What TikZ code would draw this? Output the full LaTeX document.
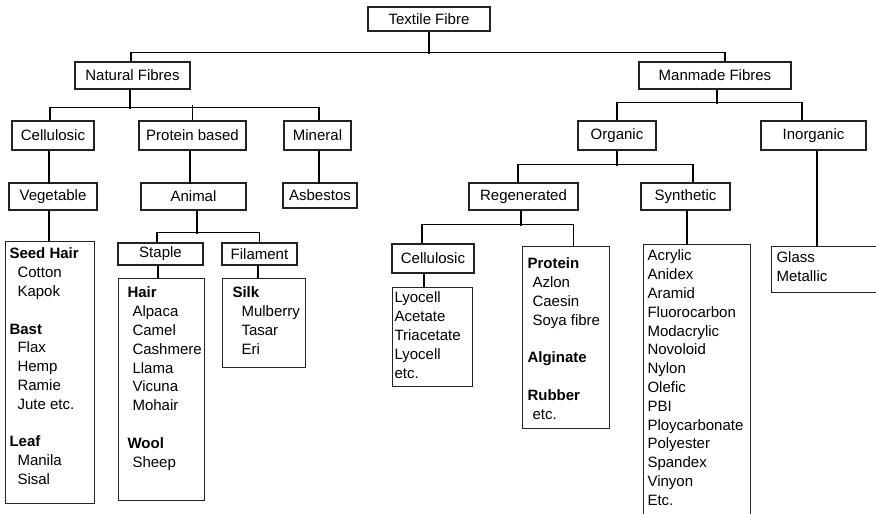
\documentclass[tikz,border=0pt]{standalone}
\usepackage{fontspec}
\setmainfont{Liberation Sans}

\tikzset{every picture/.style={line width=1.1pt}}
\tikzset{
  fibre/.style={draw={rgb, 255:red, 35; green, 35; blue, 35}, inner sep=0pt, font=\fontsize{15}{18.8}\selectfont},
  frame/.style={draw={rgb, 255:red, 35; green, 35; blue, 35}, inner sep=0pt, anchor=north west},
  items/.style={inner sep=0pt, anchor=north west, align=left, font=\fontsize{15}{18.8}\selectfont},
}
\newcommand{\ind}[1][8pt]{\hspace*{#1}}

\begin{document}
\begin{tikzpicture}[x=1pt,y=1pt,yscale=-1,xscale=1]
	\useasboundingbox (0,0) rectangle (876,514);

	% Text Node
	\node[fibre, minimum width=122pt, minimum height=24pt] (tf) at (429,19) {Textile Fibre};
	% Text Node
	\node[fibre, minimum width=115pt, minimum height=27pt] (nat) at (132.5,75.5) {Natural Fibres};
	\node[fibre, minimum width=152pt, minimum height=27pt] (man) at (715,75.5) {Manmade Fibres};
	% Text Node
	\node[fibre, minimum width=82pt, minimum height=29pt] (cel) at (53,135.5) {Cellulosic};
	\node[fibre, minimum width=107pt, minimum height=29pt] (prot) at (192.5,135.5) {Protein based};
	\node[fibre, minimum width=67pt, minimum height=29pt] (mine) at (317.5,135.5) {Mineral};
	\node[fibre, minimum width=78pt, minimum height=29pt] (org) at (617,135.5) {Organic};
	\node[fibre, minimum width=105pt, minimum height=29pt] (inorg) at (813.5,135.5) {Inorganic};
	% Text Node
	\node[fibre, minimum width=88pt, minimum height=27pt] (veg) at (53,196.5) {Vegetable};
	\node[fibre, minimum width=105pt, minimum height=27pt] (anim) at (193.5,196.5) {Animal};
	\node[fibre, minimum width=74pt, minimum height=25pt] (asb) at (320,195.5) {Asbestos};
	\node[fibre, minimum width=109pt, minimum height=27pt] (regen) at (523.5,196.5) {Regenerated};
	\node[fibre, minimum width=89pt, minimum height=27pt] (synth) at (685.5,196.5) {Synthetic};
	% Text Node
	\node[fibre, minimum width=85pt, minimum height=22pt] (stap) at (160.5,254) {Staple};
	\node[fibre, minimum width=75pt, minimum height=22pt] (fil) at (259.5,254) {Filament};
	\node[fibre, minimum width=82pt, minimum height=29pt] (rcel) at (433,258.5) {Cellulosic};

	%Shape: Rectangle
	\node[frame, minimum width=89pt, minimum height=262pt] (seed) at (5,241) {};
	\node[items] (seedlist) at ([xshift=4pt,yshift=6.5pt]seed.north west)
		{\textbf{Seed Hair}\\ \ind Cotton\\ \ind Kapok\\[18.8pt]
		 \textbf{Bast}\\ \ind Flax\\ \ind Hemp\\ \ind Ramie\\ \ind Jute etc.\\[18.8pt]
		 \textbf{Leaf}\\ \ind Manila\\ \ind Sisal};
	%Shape: Rectangle
	\node[frame, minimum width=86pt, minimum height=222pt] (hair) at (118,278) {};
	\node[items] (hairlist) at ([xshift=9pt,yshift=8.5pt]hair.north west)
		{\textbf{Hair}\\ \ind[5pt]Alpaca\\ \ind[5pt]Camel\\ \ind[5pt]Cashmere\\ \ind[5pt]Llama\\
		 \ind[5pt]Vicuna\\ \ind[5pt]Mohair\\[18.8pt]
		 \textbf{Wool}\\ \ind[5pt]Sheep};
	%Shape: Rectangle
	\node[frame, minimum width=83pt, minimum height=89pt] (silk) at (222,278) {};
	\node[items] (silklist) at ([xshift=10pt,yshift=8.5pt]silk.north west)
		{\textbf{Silk}\\ \ind[9pt]Mulberry\\ \ind[9pt]Tasar\\ \ind[9pt]Eri};
	%Shape: Rectangle
	\node[frame, minimum width=80pt, minimum height=99pt] (lyo) at (392,287) {};
	\node[items] (lyolist) at ([xshift=2pt,yshift=4.5pt]lyo.north west)
		{Lyocell\\ Acetate\\ Triacetate\\ Lyocell\\ etc.};
	%Shape: Rectangle
	\node[frame, minimum width=87pt, minimum height=182pt] (protl) at (522,246) {};
	\node[items] (protlist) at ([xshift=5pt,yshift=11.5pt]protl.north west)
		{\textbf{Protein}\\ \ind[5pt]Azlon\\ \ind[5pt]Caesin\\ \ind[5pt]Soya fibre\\[18.8pt]
		 \textbf{Alginate}\\[18.8pt]
		 \textbf{Rubber}\\ \ind[5pt]etc.};
	%Shape: Rectangle
	\node[frame, minimum width=107pt, minimum height=300pt] (synl) at (643,244) {};
	\node[items] (synlist) at ([xshift=4pt,yshift=5.5pt]synl.north west)
		{Acrylic\\ Anidex\\ Aramid\\ Fluorocarbon\\ Modacrylic\\ Novoloid\\ Nylon\\
		 Olefic\\ PBI\\ Ploycarbonate\\ Polyester\\ Spandex\\ Vinyon\\ Etc.};
	%Shape: Rectangle
	\node[frame, minimum width=120pt, minimum height=46pt] (glass) at (771,246) {};
	\node[items] (glasslist) at ([xshift=5pt,yshift=5.5pt]glass.north west)
		{Glass\\ Metallic};

	%Straight Lines
	\draw (tf.south) -- ++(0,22);
	\draw ([xshift=-1.5pt]nat.north) -- ++(0,-9) -| ([xshift=10pt]man.north);
	%Straight Lines
	\draw ([xshift=-2.5pt]nat.south) -- ++(0,19);
	\draw ([xshift=-3pt]cel.north) -- ++(0,-13) -| ([xshift=1.5pt]mine.north);
	\draw (prot.north) -- ++(0,-15);
	%Straight Lines
	\draw ([xshift=-4pt]cel.south) -- ++(0,33);
	\draw ([xshift=-2.5pt]prot.south) -- ++(0,33);
	\draw ([xshift=1.5pt]mine.south) -- ++(0,33);
	\draw ([xshift=-4pt]veg.south) -- ++(0,31);
	%Straight Lines
	\draw ([xshift=3.5pt]anim.south) -- ++(0,23);
	\draw ([xshift=-3.5pt]stap.north) -- ++(0,-10) -| (fil.north);
	\draw ([xshift=-2.5pt]stap.south) -- ++(0,13);
	\draw ([xshift=-1.5pt]fil.south) -- ++(0,13);
	%Straight Lines
	\draw ([xshift=2pt]man.south) -- ++(0,14);
	\draw (org.north) -- ++(0,-18) -| ([xshift=-11.5pt]inorg.north);
	\draw (org.south) -- ++(0,15);
	\draw ([xshift=-5.5pt]regen.north) -- ++(0,-18) -| ([xshift=7.5pt]synth.north);
	\draw ([xshift=3.5pt]inorg.south) -- ++(0,96);
	%Straight Lines
	\draw ([xshift=-2.5pt]regen.south) -- ++(0,15);
	\draw ([xshift=-11pt]rcel.north) -- ++(0,-19) -| ([xshift=7.5pt]protl.north);
	\draw ([xshift=-9pt]rcel.south) -- ++(0,14);
	\draw ([xshift=1.5pt]synth.south) -- ++(0,34);

\end{tikzpicture}
\end{document}
